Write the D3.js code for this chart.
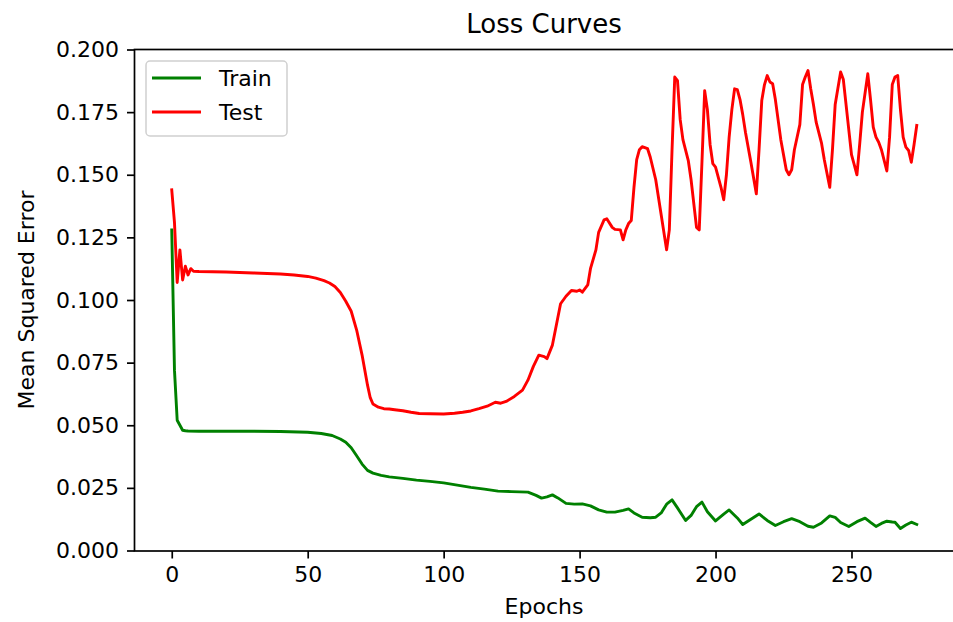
<!DOCTYPE html>
<html>
<head>
<meta charset="utf-8">
<script src="https://cdn.jsdelivr.net/npm/d3@7"></script>
<style>
  body { margin: 0; background: #fff; }
  svg { display: block; font-family: 'DejaVu Sans', sans-serif; }
</style>
</head>
<body>
<div id="container"></div>
<script>
// Values (epoch, mean squared error)
const trainEpochs = [0, 1, 2, 3, 4, 5, 6, 10, 20, 30, 40, 50, 55, 59, 62, 64, 66, 68, 70, 72, 74, 77, 80, 85, 90, 95,
  100, 105, 110, 115, 120, 125, 128, 131, 134, 136, 138, 140, 142, 145, 148, 151, 154, 157, 160, 163, 166, 168, 170,
  173, 176, 178, 180, 182, 184, 186, 189, 191, 193, 195, 197, 200, 203, 205, 208, 210, 213, 216, 219, 222, 225, 228,
  231, 234, 236, 239, 242, 244, 246, 249, 252, 255, 257, 259, 261, 263, 265, 266, 268, 270, 272, 274];
const trainLoss = [0.128, 0.072, 0.052, 0.050, 0.048, 0.0478, 0.0477, 0.0476, 0.0476, 0.0476, 0.0475, 0.0472, 0.0467,
  0.0459, 0.0445, 0.0432, 0.0410, 0.0378, 0.0345, 0.0320, 0.0309, 0.0300, 0.0294, 0.0288, 0.0281, 0.0276,
  0.0270, 0.0261, 0.0252, 0.0245, 0.0237, 0.0235, 0.0234, 0.0233, 0.0220, 0.0209, 0.0214, 0.0222, 0.0210, 0.0188,
  0.0185, 0.0186, 0.0178, 0.0162, 0.0153, 0.0153, 0.0160, 0.0166, 0.0150, 0.0133, 0.0131, 0.0133, 0.0150, 0.0185,
  0.0202, 0.0170, 0.0120, 0.0140, 0.0175, 0.0193, 0.0155, 0.0118, 0.0145, 0.0162, 0.0130, 0.0104, 0.0125, 0.0146,
  0.0120, 0.0100, 0.0115, 0.0127, 0.0115, 0.0097, 0.0093, 0.0110, 0.0138, 0.0132, 0.0112, 0.0096, 0.0115, 0.0129,
  0.0112, 0.0096, 0.0108, 0.0117, 0.0114, 0.0113, 0.0088, 0.0102, 0.0113, 0.0104];

const testEpochs = [0, 1, 2, 3, 4, 5, 6, 7, 8, 10, 20, 30, 40, 45, 50, 53, 56, 58, 60, 62, 64, 66, 68, 70, 72, 73, 74,
  76, 78, 80, 82, 85, 88, 91, 95, 100, 104, 107, 110, 113, 116, 119, 121, 123, 126, 129, 131, 133, 135, 137, 138,
  140, 142, 143, 145, 147, 149, 150, 151, 153, 154, 156, 157, 159, 160, 162, 163, 165, 166, 167, 168, 169, 170, 171,
  172, 173, 175, 176, 178, 180, 182, 183, 184, 185, 186, 187, 188, 190, 191, 193, 194, 195, 196, 197, 198, 199, 200,
  202, 203, 204, 205, 206, 207, 208, 209, 210, 211, 213, 215, 216, 217, 218, 219, 220, 221, 222, 224, 226, 227, 228,
  229, 231, 232, 233, 234, 235, 236, 237, 239, 240, 242, 243, 244, 246, 247, 248, 249, 250, 251, 252, 253, 254, 256,
  257, 258, 259, 260, 261, 263, 264, 265, 266, 267, 268, 269, 270, 271, 272, 273, 274];
const testLoss = [0.144, 0.131, 0.107, 0.120, 0.108, 0.1135, 0.110, 0.1125, 0.1115, 0.1114, 0.1112, 0.1108, 0.1104,
  0.1100, 0.1094, 0.1087, 0.1077, 0.1068, 0.1054, 0.1030, 0.0995, 0.0955, 0.0880, 0.0780, 0.0660, 0.0610, 0.0585,
  0.0572, 0.0566, 0.0565, 0.0562, 0.0558, 0.0552, 0.0547, 0.0546, 0.0545, 0.0548, 0.0552, 0.0557, 0.0566, 0.0576,
  0.0592, 0.0588, 0.0595, 0.0615, 0.0640, 0.0680, 0.0735, 0.0780, 0.0774, 0.0766, 0.0820, 0.0930, 0.0985, 0.1015,
  0.1038, 0.1035, 0.1040, 0.1031, 0.1060, 0.1125, 0.1200, 0.1270, 0.1320, 0.1324, 0.1290, 0.1282, 0.1280, 0.1240,
  0.1280, 0.1305, 0.1317, 0.1450, 0.1560, 0.1600, 0.1612, 0.1604, 0.1570, 0.1480, 0.1340, 0.1200, 0.1280, 0.1600,
  0.1890, 0.1876, 0.1720, 0.1640, 0.1555, 0.1480, 0.1290, 0.1280, 0.1550, 0.1836, 0.1760, 0.1620, 0.1544, 0.1530,
  0.1450, 0.1400, 0.1500, 0.1650, 0.1760, 0.1843, 0.1840, 0.1800, 0.1740, 0.1670, 0.1550, 0.1424, 0.1600, 0.1796,
  0.1860, 0.1896, 0.1870, 0.1863, 0.1800, 0.1640, 0.1520, 0.1500, 0.1520, 0.1600, 0.1700, 0.1860, 0.1890, 0.1916,
  0.1843, 0.1780, 0.1710, 0.1625, 0.1560, 0.1450, 0.1600, 0.1780, 0.1910, 0.1880, 0.1780, 0.1680, 0.1580, 0.1540,
  0.1500, 0.1620, 0.1750, 0.1903, 0.1800, 0.1690, 0.1650, 0.1630, 0.1600, 0.1515, 0.1650, 0.1860, 0.1890, 0.1896,
  0.1760, 0.1650, 0.1610, 0.1597, 0.1550, 0.1620, 0.1697];

const xTicks = [0, 50, 100, 150, 200, 250];
const yTicks = [0.000, 0.025, 0.050, 0.075, 0.100, 0.125, 0.150, 0.175, 0.200];

const series = [
  { name: 'Train', epochs: trainEpochs, values: trainLoss, color: '#008000' },
  { name: 'Test', epochs: testEpochs, values: testLoss, color: '#ff0000' }
];

const WIDTH = 953;
const HEIGHT = 622;
const FONT = 22;
const LINE_WIDTH = 2.9;

const svg = d3.select('#container').append('svg')
  .attr('width', WIDTH)
  .attr('height', HEIGHT);

// matplotlib-like 5% margin on the x data range, y limits fixed at 0..0.2
const x = d3.scaleLinear().domain([-13.7, 287.7]).range([134.5, 954]);
const y = d3.scaleLinear().domain([-0.0002, 0.2]).range([551, 49.5]);

const plot = svg.append('g');

const line = d3.line()
  .x(d => x(d[0]))
  .y(d => y(d[1]));

series.forEach(s => {
  plot.append('path')
    .datum(d3.zip(s.epochs, s.values))
    .attr('d', line)
    .attr('fill', 'none')
    .attr('stroke', s.color)
    .attr('stroke-width', LINE_WIDTH)
    .attr('stroke-linejoin', 'round')
    .attr('stroke-linecap', 'square');
});

// axes
const xAxis = svg.append('g')
  .attr('transform', `translate(0,${y.range()[0]})`)
  .call(d3.axisBottom(x).tickValues(xTicks).tickSize(7.5).tickPadding(8).tickFormat(d3.format('d')));
const yAxis = svg.append('g')
  .attr('transform', `translate(${x.range()[0]},0)`)
  .call(d3.axisLeft(y).tickValues(yTicks).tickSize(7.5).tickPadding(8).tickFormat(d3.format('.3f')));

[xAxis, yAxis].forEach(a => {
  a.select('.domain').remove();
  a.selectAll('.tick line').attr('stroke', '#000').attr('stroke-width', 1.7);
  a.selectAll('.tick text')
    .attr('fill', '#000')
    .style('font-size', `${FONT}px`)
    .style('font-family', "'DejaVu Sans', sans-serif");
});

// frame
svg.append('rect')
  .attr('x', x.range()[0])
  .attr('y', y.range()[1])
  .attr('width', x.range()[1] - x.range()[0])
  .attr('height', y.range()[0] - y.range()[1])
  .attr('fill', 'none')
  .attr('stroke', '#000')
  .attr('stroke-width', 1.7);

// labels
svg.append('text')
  .attr('x', 544)
  .attr('y', 33)
  .attr('text-anchor', 'middle')
  .style('font-size', '26px')
  .text('Loss Curves');

svg.append('text')
  .attr('x', 544)
  .attr('y', 614)
  .attr('text-anchor', 'middle')
  .style('font-size', `${FONT}px`)
  .text('Epochs');

svg.append('text')
  .attr('transform', 'translate(34,300) rotate(-90)')
  .attr('text-anchor', 'middle')
  .style('font-size', `${FONT}px`)
  .text('Mean Squared Error');

// legend
const legend = svg.append('g').attr('transform', 'translate(146,61)');
legend.append('rect')
  .attr('width', 141)
  .attr('height', 75)
  .attr('rx', 4)
  .attr('fill', '#fff')
  .attr('fill-opacity', 0.8)
  .attr('stroke', '#d0d0d0')
  .attr('stroke-width', 1.5);

series.forEach((s, i) => {
  const row = legend.append('g').attr('transform', `translate(0,${17 + i * 34})`);
  row.append('line')
    .attr('x1', 6)
    .attr('x2', 55)
    .attr('stroke', s.color)
    .attr('stroke-width', LINE_WIDTH);
  row.append('text')
    .attr('x', 73)
    .attr('dy', '0.36em')
    .style('font-size', `${FONT}px`)
    .text(s.name);
});
</script>
</body>
</html>
